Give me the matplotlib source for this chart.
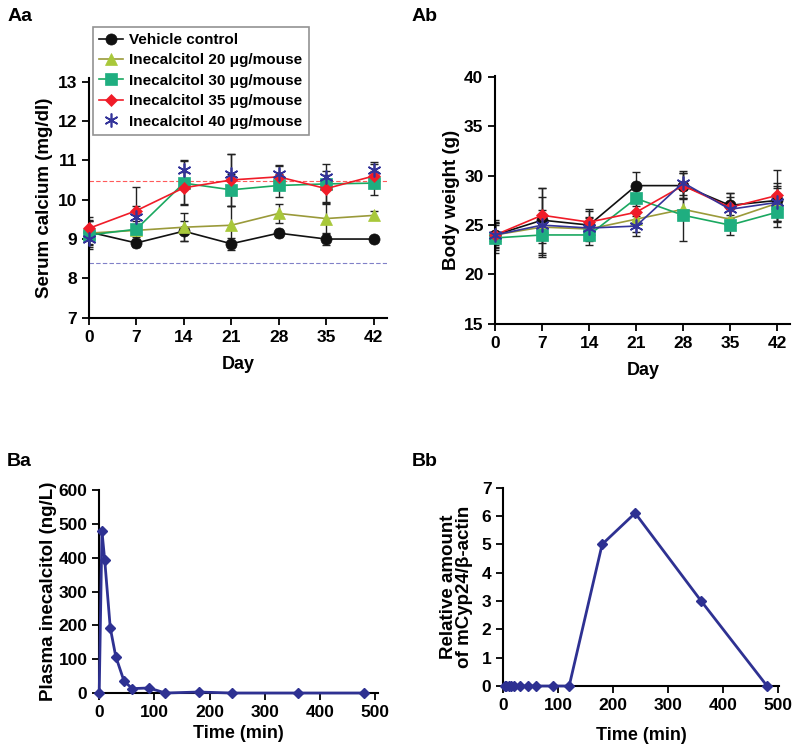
import matplotlib
matplotlib.use("Agg")
import matplotlib.pyplot as plt
import numpy as np

plt.rcParams['font.family'] = ['Liberation Sans', 'DejaVu Sans']
plt.rcParams['font.weight'] = 'bold'
plt.rcParams['axes.labelweight'] = 'bold'

# Aa / Ab: 6 week study
days = [0, 7, 14, 21, 28, 35, 42]
groups = ["Vehicle control",
          "Inecalcitol 20 \u03bcg/mouse",
          "Inecalcitol 30 \u03bcg/mouse",
          "Inecalcitol 35 \u03bcg/mouse",
          "Inecalcitol 40 \u03bcg/mouse"]

calcium_vehicle = [9.18, 8.9, 9.2, 8.88, 9.15, 9.0, 9.0]
calcium_20 = [9.15, 9.22, 9.3, 9.35, 9.65, 9.52, 9.6]
calcium_30 = [9.1, 9.25, 10.42, 10.25, 10.36, 10.4, 10.42]
calcium_35 = [9.27, 9.72, 10.3, 10.5, 10.58, 10.28, 10.6]
calcium_40 = [9.0, 9.55, 10.75, 10.65, 10.65, 10.58, 10.75]
calcium_err_vehicle = [0.3, 0.1, 0.25, 0.15, 0.1, 0.15, 0.05]
calcium_err_20 = [0.3, 0.1, 0.35, 0.5, 0.25, 0.4, 0.1]
calcium_err_30 = [0.35, 0.2, 0.55, 0.4, 0.3, 0.5, 0.3]
calcium_err_35 = [0.3, 0.6, 0.4, 0.65, 0.3, 0.35, 0.3]
calcium_err_40 = [0.2, 0.3, 0.25, 0.5, 0.2, 0.15, 0.2]
calcium_upper_normal = 10.47
calcium_lower_normal = 8.4

weight_vehicle = [24.0, 25.5, 25.0, 29.0, 29.0, 27.0, 27.5]
weight_20 = [24.0, 24.8, 24.6, 25.6, 26.6, 25.6, 27.2]
weight_30 = [23.7, 24.0, 24.0, 27.7, 26.0, 25.0, 26.3]
weight_35 = [24.0, 26.0, 25.3, 26.3, 29.0, 26.8, 28.0]
weight_40 = [24.0, 25.0, 24.7, 24.9, 29.3, 26.6, 27.3]
weight_err_vehicle = [1.5, 3.3, 1.4, 1.4, 1.3, 1.3, 1.3]
weight_err_20 = [1.3, 3.0, 1.2, 1.3, 1.0, 1.0, 1.8]
weight_err_30 = [1.5, 2.0, 1.0, 1.3, 2.6, 1.0, 1.5]
weight_err_35 = [1.2, 2.8, 1.3, 1.2, 1.3, 1.5, 2.6]
weight_err_40 = [1.0, 1.5, 1.0, 1.0, 1.2, 1.2, 2.0]

# Ba / Bb: single dose time course
time_plasma = [0, 5, 10, 20, 30, 45, 60, 90, 120, 180, 240, 360, 480]
plasma_level = [0, 478, 393, 193, 108, 35, 13, 15, 0, 3, 0, 0, 0]
time_cyp = [2.5, 5, 10, 15, 20, 30, 45, 60, 90, 120, 180, 240, 360, 480]
cyp24_level = [0, 0, 0, 0, 0, 0, 0, 0, 0, 0, 5.0, 6.1, 3.0, 0]

# styles: marker color, line color, marker, size
styles = [
    ("#111111", "#111111", "o", 8),
    ("#a8c83a", "#9a9a3a", "^", 8),
    ("#1fae80", "#1aa860", "s", 8),
    ("#f01c28", "#f01c28", "D", 6.5),
    ("#34349a", "#34349a", (6, 2, 0), 10),
]
navy = "#2e3192"


def style_axes(ax):
    ax.spines['top'].set_visible(False)
    ax.spines['right'].set_visible(False)
    ax.spines['left'].set_linewidth(1.5)
    ax.spines['bottom'].set_linewidth(1.5)
    ax.tick_params(direction='out', length=5, width=1.3, labelsize=12.5)
    for lab in ax.get_xticklabels() + ax.get_yticklabels():
        lab.set_fontweight('bold')


def series_panel(ax, values, errors, line_for_last):
    handles = []
    for i, (vals, errs) in enumerate(zip(values, errors)):
        mc, lc, mk, ms = styles[i]
        ax.errorbar(days, vals, yerr=errs, fmt='none', ecolor='#222222',
                    elinewidth=1, capsize=3, capthick=1, zorder=2)
        ls = '-' if (i < 4 or line_for_last) else 'none'
        h, = ax.plot(days, vals, linestyle=ls, color=lc, lw=1.2, marker=mk,
                     markersize=ms, markerfacecolor=mc, markeredgecolor=mc,
                     markeredgewidth=1.2 if i == 4 else 0.5, zorder=3 + i,
                     clip_on=False)
        handles.append(h)
    ax.set_xlim(0, 44)
    ax.set_xticks(days)
    ax.set_xlabel("Day", fontsize=13, labelpad=8)
    return handles


fig = plt.figure(figsize=(8, 7.46), dpi=100)

# Aa
axAa = fig.add_axes([0.111, 0.574, 0.373, 0.322])
hs = series_panel(axAa,
                  [calcium_vehicle, calcium_20, calcium_30, calcium_35, calcium_40],
                  [calcium_err_vehicle, calcium_err_20, calcium_err_30,
                   calcium_err_35, calcium_err_40], False)
axAa.axhline(calcium_upper_normal, color='#ff5a5a', lw=0.8, ls=(0, (4, 2)), zorder=1)
axAa.axhline(calcium_lower_normal, color='#8080c8', lw=0.8, ls=(0, (4, 2)), zorder=1)
axAa.set_ylim(7, 13.1)
axAa.set_yticks(range(7, 14))
axAa.set_ylabel("Serum calcium (mg/dl)", fontsize=13.5, labelpad=3)
style_axes(axAa)
leg = fig.legend(hs, groups, loc='upper left', bbox_to_anchor=(0.116, 0.964),
                 borderaxespad=0, frameon=True, fancybox=False,
                 edgecolor='#777777', handlelength=1.6, handletextpad=0.4,
                 borderpad=0.4, labelspacing=0.42,
                 prop={'weight': 'bold', 'size': 11})
leg.get_frame().set_linewidth(1.2)
fig.text(0.009, 0.972, "Aa", fontsize=14, fontweight='bold')

# Ab
axAb = fig.add_axes([0.619, 0.566, 0.369, 0.332])
series_panel(axAb,
             [weight_vehicle, weight_20, weight_30, weight_35, weight_40],
             [weight_err_vehicle, weight_err_20, weight_err_30,
              weight_err_35, weight_err_40], True)
axAb.set_ylim(15, 40.1)
axAb.set_yticks(range(15, 41, 5))
axAb.set_ylabel("Body weight (g)", fontsize=13.5, labelpad=3)
style_axes(axAb)
fig.text(0.515, 0.972, "Ab", fontsize=14, fontweight='bold')

# Ba
axBa = fig.add_axes([0.124, 0.071, 0.348, 0.272])
axBa.plot(time_plasma, plasma_level, color=navy, lw=2, marker='D',
          markersize=5.5, clip_on=False, zorder=3)
axBa.set_xlim(0, 504)
axBa.set_ylim(0, 600)
axBa.set_xticks(range(0, 501, 100))
axBa.set_yticks(range(0, 601, 100))
axBa.set_xlabel("Time (min)", fontsize=13, labelpad=4)
axBa.set_ylabel("Plasma inecalcitol (ng/L)", fontsize=13.5, labelpad=1)
style_axes(axBa)
fig.text(0.009, 0.375, "Ba", fontsize=14, fontweight='bold')

# Bb
axBb = fig.add_axes([0.629, 0.0804, 0.345, 0.266])
axBb.plot(time_cyp, cyp24_level, color=navy, lw=2, marker='D',
          markersize=5, clip_on=False, zorder=3)
axBb.set_xlim(0, 502)
axBb.set_ylim(0, 7)
axBb.set_xticks(range(0, 501, 100))
axBb.set_yticks(range(0, 8))
axBb.set_xlabel("Time (min)", fontsize=13, labelpad=10)
axBb.set_ylabel("Relative amount\nof mCyp24/\u03b2-actin", fontsize=13.5,
                labelpad=6, linespacing=0.95)
style_axes(axBb)
fig.text(0.515, 0.375, "Bb", fontsize=14, fontweight='bold')

fig.savefig("out.png", dpi=100)
